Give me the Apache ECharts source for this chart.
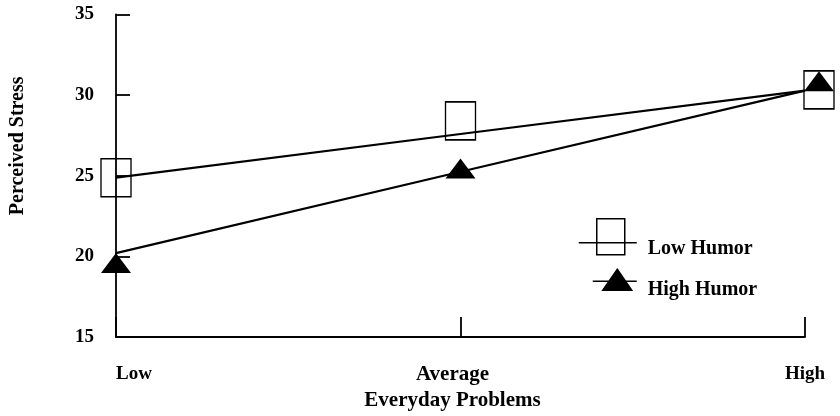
<!DOCTYPE html>
<html>
<head>
<meta charset="utf-8">
<script src="https://cdn.jsdelivr.net/npm/echarts@6/dist/echarts.min.js"></script>
<style>
html,body{margin:0;padding:0;background:#fff;}
#chart{width:840px;height:416px;}
</style>
</head>
<body>
<div id="chart"></div>
<script>
var categories = ['Low', 'Average', 'High'];
var lowHumorMeans = [24.88, 28.41, 30.33];
var highHumorMeans = [19.59, 25.46, 30.86];
var lowHumorFit = [24.89, 27.59, 30.28];
var highHumorFit = [20.21, 25.25, 30.28];
var yTicks = [15, 20, 25, 30, 35];

var FONT = 'Liberation Serif';
var chart = echarts.init(document.getElementById('chart'));

function withLastOffset(arr) {
  return arr.map(function (v, i) {
    return i === arr.length - 1 ? { value: v, symbolOffset: [14, 0] } : v;
  });
}

var option = {
  backgroundColor: '#fff',
  animation: false,
  grid: { left: 114, right: 35, top: 14.5, bottom: 78.5 },
  legend: {
    left: 578, top: 218, padding: 0, orient: 'vertical',
    itemWidth: 58, itemHeight: 60, itemGap: -20,
    selectedMode: false,
    textStyle: { fontFamily: FONT, fontWeight: 'bold', fontSize: 20, color: '#000', padding: [0, 0, 0, 6] },
    data: [
      { name: 'Low Humor', icon: 'path://M0,0M58,60M0,24L58,24M18,0L46,0L46,36L18,36Z',
        itemStyle: { color: 'rgba(0,0,0,0)', borderColor: '#000', borderWidth: 1.5 } },
      { name: 'High Humor', icon: 'path://M0,0M58,60M14,21L58,21M38.5,9L53,30L24,30Z',
        itemStyle: { color: '#000', borderColor: '#000', borderWidth: 1.5 } }
    ]
  },
  xAxis: {
    type: 'category',
    data: categories,
    boundaryGap: false,
    name: 'Everyday Problems',
    nameLocation: 'middle',
    nameGap: 48,
    nameTextStyle: { fontFamily: FONT, fontWeight: 'bold', fontSize: 21, color: '#000', padding: [0, 16, 0, 0] },
    axisLine: { lineStyle: { color: '#000', width: 1.8 } },
    axisTick: { inside: true, length: 20, lineStyle: { color: '#000', width: 1.8 } },
    axisLabel: {
      margin: 27, fontFamily: FONT, fontWeight: 'bold', fontSize: 19, color: '#000', alignMinLabel: 'left',
      formatter: function (v, i) { return i === 1 ? '{mid|' + v + '}' : v; },
      rich: { mid: { fontFamily: FONT, fontWeight: 'bold', fontSize: 21, color: '#000', padding: [0, 16, 0, 0] } }
    },
    splitLine: { show: false }
  },
  yAxis: {
    type: 'value',
    min: yTicks[0], max: yTicks[yTicks.length - 1], interval: yTicks[1] - yTicks[0],
    name: 'Perceived Stress',
    nameLocation: 'middle',
    nameGap: 88,
    nameTextStyle: { fontFamily: FONT, fontWeight: 'bold', fontSize: 20, color: '#000', padding: [0, 0, 0, 60] },
    axisLine: { show: true, lineStyle: { color: '#000', width: 1.8 } },
    axisTick: { show: true, inside: true, length: 14, lineStyle: { color: '#000', width: 1.8 } },
    axisLabel: { margin: 22, fontFamily: FONT, fontWeight: 'bold', fontSize: 19, color: '#000' },
    splitLine: { show: false }
  },
  series: [
    { name: 'Low Humor fit', type: 'line', data: lowHumorFit, showSymbol: false, symbol: 'none',
      lineStyle: { color: '#000', width: 2.2 }, z: 2, silent: true },
    { name: 'High Humor fit', type: 'line', data: highHumorFit, showSymbol: false, symbol: 'none',
      lineStyle: { color: '#000', width: 2.2 }, z: 2, silent: true },
    { name: 'Low Humor', type: 'scatter', data: withLastOffset(lowHumorMeans),
      symbol: 'rect', symbolSize: [30, 38],
      itemStyle: { color: 'rgba(0,0,0,0)', borderColor: '#000', borderWidth: 1.5, opacity: 1 }, z: 3 },
    { name: 'High Humor', type: 'scatter', data: withLastOffset(highHumorMeans),
      symbol: 'triangle', symbolSize: [30, 20],
      itemStyle: { color: '#000', borderColor: '#000', borderWidth: 0, opacity: 1 }, z: 4 }
  ]
};
chart.setOption(option);
</script>
</body>
</html>
